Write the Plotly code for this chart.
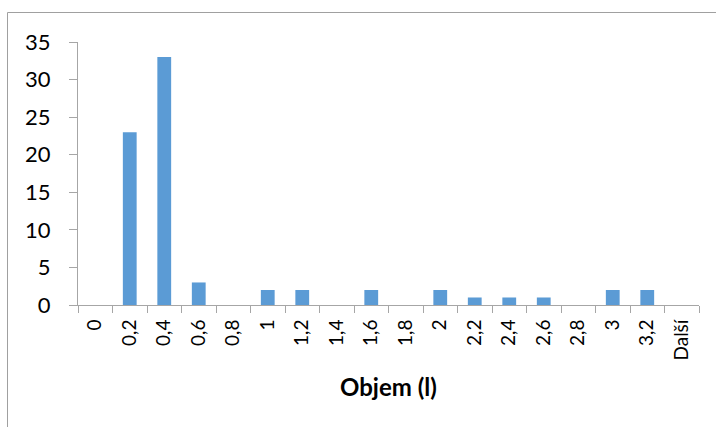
import plotly.graph_objects as go

# Histogram bins (upper bounds) and their counts
bins = ["0", "0,2", "0,4", "0,6", "0,8", "1", "1,2", "1,4", "1,6", "1,8",
        "2", "2,2", "2,4", "2,6", "2,8", "3", "3,2", "Další"]
counts = [0, 23, 33, 3, 0, 2, 2, 0, 2, 0, 2, 1, 1, 1, 0, 2, 2, 0]
y_ticks = [0, 5, 10, 15, 20, 25, 30, 35]

W, H = 716, 427
L, R, T, B = 78, 17, 42, 122
pw, ph = W - L - R, H - T - B

axis_grey = "#a6a6a6"
font_main = "Lato, Calibri, Carlito, sans-serif"

fig = go.Figure(go.Bar(
    x=bins, y=counts,
    marker=dict(color="#5b9bd5", line=dict(width=0)),
    width=0.4,
))

fig.update_layout(
    width=W, height=H,
    margin=dict(l=L, r=R, t=T, b=B, pad=0),
    paper_bgcolor="white", plot_bgcolor="white",
    showlegend=False,
    font=dict(family=font_main, color="#000000"),
)

fig.update_xaxes(
    type="category",
    showline=True, linecolor=axis_grey, linewidth=1,
    ticks="outside", ticklen=7, tickcolor=axis_grey, tickwidth=1,
    tickson="boundaries",
    tickangle=-90,
    tickfont=dict(size=19, family=font_main),
    ticklabelstandoff=6,
    showgrid=False, zeroline=False,
)
fig.update_yaxes(
    range=[0, 35], tickvals=y_ticks,
    showline=True, linecolor=axis_grey, linewidth=1,
    ticks="outside", ticklen=8, tickcolor=axis_grey, tickwidth=1,
    tickfont=dict(size=22, family=font_main),
    showgrid=False, zeroline=False,
    ticklabelstandoff=14,
)

# Axis title
fig.add_annotation(
    text="<b>Objem (l)</b>", xref="paper", yref="paper",
    x=0.5, y=(T + ph - 386) / ph, xanchor="center", yanchor="middle",
    showarrow=False, font=dict(size=24, family=font_main, color="#000000"),
)

# Chart-area frame (runs past the right and bottom edges)
fig.add_shape(
    type="rect", xref="paper", yref="paper",
    x0=(7.5 - L) / pw, x1=(W + 5 - L) / pw,
    y0=(T + ph - 12.5) / ph, y1=(T + ph - H - 5) / ph,
    line=dict(color="#a0a0a0", width=1), fillcolor="rgba(0,0,0,0)",
    layer="below",
)

fig.write_html("out.html")
